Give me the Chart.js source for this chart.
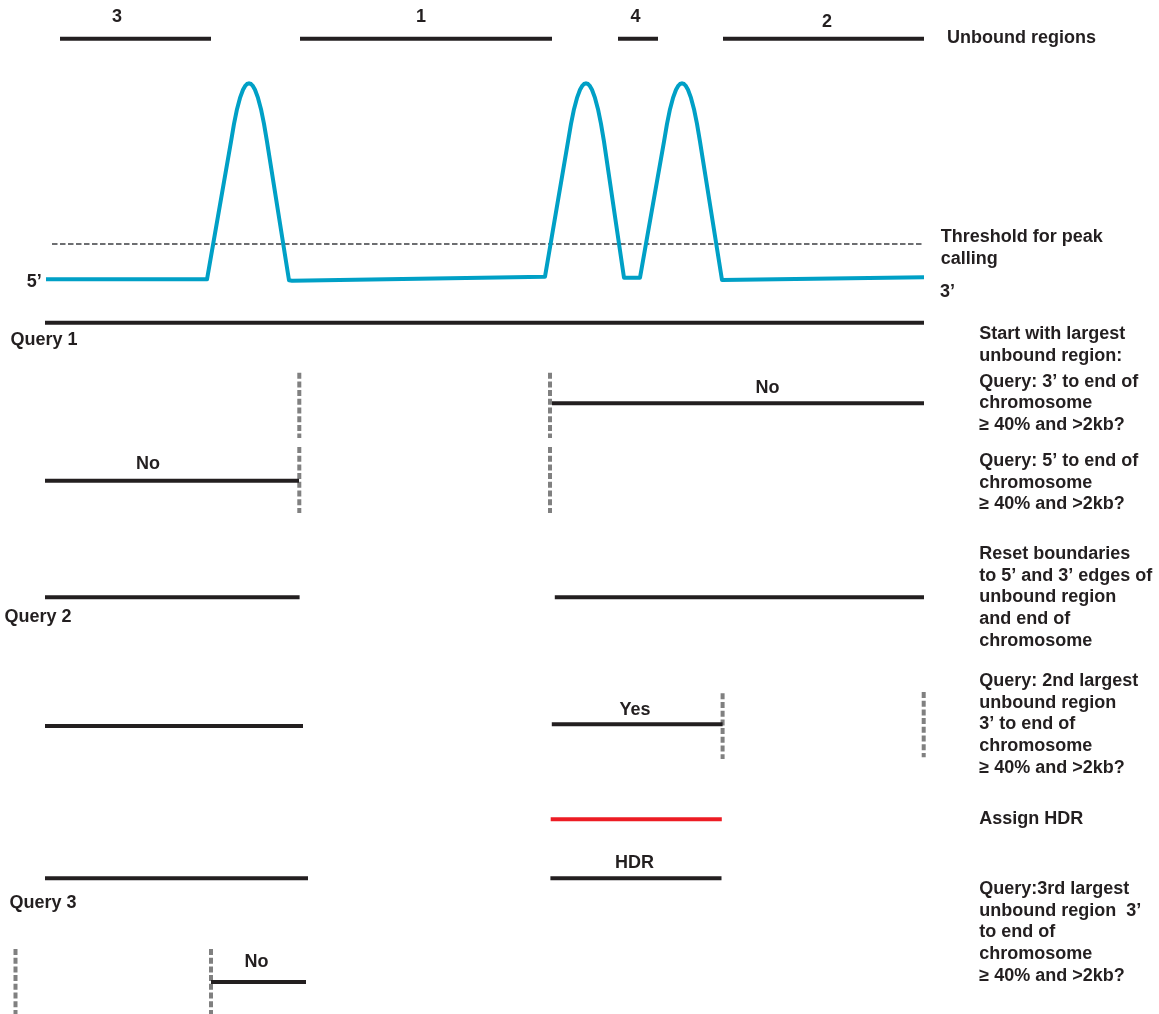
<!DOCTYPE html>
<html>
<head>
<meta charset="utf-8">
<script src="https://cdn.jsdelivr.net/npm/chart.js@4/dist/chart.umd.min.js"></script>
<style>
html,body{margin:0;padding:0;background:#ffffff;}
canvas{display:block;}
</style>
</head>
<body>
<canvas id="c" width="1159" height="1014"></canvas>
<script>
// ================= DATA =================
// Chromosome positions run from the 5' end (0) to the 3' end (879).
const chromosomeLength = 879;

// Unbound regions (numbered by size rank)
const regionNames  = ['3', '1', '4', '2'];
const regionStarts = [15, 255, 573, 678];
const regionEnds   = [166, 507, 613, 879];

// ChIP signal trace (position, signal)
const signalPos = [1, 162, 186, 189, 192, 195, 198, 200, 202, 204, 206, 208, 210, 213, 216, 219, 222, 244,
                   247, 500, 523, 526, 529, 532, 535, 537, 539, 541, 543, 545, 547, 550, 553, 556, 559, 579,
                   595, 619, 622, 625, 628, 631, 633, 635, 637, 639, 641, 643, 646, 649, 652, 655, 677,
                   879];
const signalVal = [0, 0, 137.7, 155.5, 170.1, 181.4, 189.5, 193.1, 195.3, 196, 195.3, 193.1, 189.5, 181.4, 170.1, 155.5, 137.7, -1,
                   -1.4, 2.6, 137.7, 155.5, 170.1, 181.4, 189.5, 193.1, 195.3, 196, 195.3, 193.1, 189.5, 181.4, 170.1, 155.5, 137.7, 1.6,
                   1.6, 137.7, 155.5, 170.1, 181.4, 189.5, 193.1, 195.3, 196, 195.3, 193.1, 189.5, 181.4, 170.1, 155.5, 137.7, -0.7,
                   2];
const peakThreshold = 35.3;
const thresholdFrom = 7;

// Query step rows (track value) and tested segments
const segmentStart = [0,   507,   0,     0,     509.8, 0,   506.8, 505.7, 0,     505.4, 166];
const segmentEnd   = [879, 879,   254,   254.6, 879,   258, 677.6, 676.8, 263,   676.5, 261];
const segmentRow   = [322.7, 403.3, 480.7, 597.3, 597.3, 726, 724.3, 819.3, 878.3, 878.3, 982];
const segmentIsHDR = [false, false, false, false, false, false, false, true, false, false, false];

// Query boundaries (dashed)
const boundaryPos    = [254.3, 254.3, 505, 505, 677.6, 878.7, -29.5, 166];
const boundaryTop    = [372.7, 447,   372.7, 447, 693.3, 692,  949,   949];
const boundaryBottom = [438,   513,   438,   513, 759,   757.3, 1014, 1014];

// Texts
const queryNames    = ['Query 1', 'Query 2', 'Query 3'];
const outcomeLabels = ['No', 'No', 'Yes', 'HDR', 'No'];
const sideNotes = [
  ['Start with largest', 'unbound region:'],
  ['Query: 3\u2019 to end of', 'chromosome', '\u2265 40% and >2kb?'],
  ['Query: 5\u2019 to end of', 'chromosome', '\u2265 40% and >2kb?'],
  ['Reset boundaries', 'to 5\u2019 and 3\u2019 edges of', 'unbound region', 'and end of', 'chromosome'],
  ['Query: 2nd largest', 'unbound region', '3\u2019 to end of', 'chromosome', '\u2265 40% and >2kb?'],
  ['Assign HDR'],
  ['Query:3rd largest', 'unbound region  3\u2019', 'to end of', 'chromosome', '\u2265 40% and >2kb?']
];
const legendTitle = 'Unbound regions';
const thresholdText = ['Threshold for peak', 'calling'];
const endLabels = ['5\u2019', '3\u2019'];

// ================= LAYOUT / STYLE =================
const INK = '#231f20';
const BLUE = '#00a0c6';
const RED = '#ed1c24';
const GREY = '#808080';
const DASHGREY = '#6d6e71';
const FONT = 'bold 18px "Liberation Sans", Arial, Helvetica, sans-serif';
const regionRow = 38.7;
const regionLabelX = [72, 376, 590.5, 782];
const regionLabelY = [21.7, 21.7, 21.7, 26.7];
const queryNameX = [-34.5, -40.6, -35.4];
const queryNameY = [344.7, 621.7, 908];
const outcomeX = [103, 722.5, 590, 589.5, 211.5];
const outcomeY = [469, 393, 715, 868.3, 966.7];
const sideNoteX = 934.3;
const sideNoteY = [339.3, 386.7, 466, 559, 686, 824, 894];
const sideLineH = 21.7;

// ================= DATASETS =================
const base = {showLine: true, pointRadius: 0, pointHoverRadius: 0, tension: 0, fill: false,
              borderCapStyle: 'butt'};
const datasets = [];

datasets.push(Object.assign({}, base, {
  label: 'Signal', yAxisID: 'ys', borderColor: BLUE, borderWidth: 4, borderJoinStyle: 'round',
  data: signalPos.map((x, i) => ({x: x, y: signalVal[i]}))
}));
datasets.push(Object.assign({}, base, {
  label: 'Threshold', yAxisID: 'ys', borderColor: DASHGREY, borderWidth: 2, borderDash: [5.5, 2.5],
  data: [{x: thresholdFrom, y: peakThreshold}, {x: chromosomeLength - 0.3, y: peakThreshold}]
}));
regionNames.forEach((n, i) => {
  datasets.push(Object.assign({}, base, {
    label: 'Region ' + n, yAxisID: 'y', borderColor: INK, borderWidth: 4,
    data: [{x: regionStarts[i], y: regionRow}, {x: regionEnds[i], y: regionRow}]
  }));
});
segmentStart.forEach((s, i) => {
  datasets.push(Object.assign({}, base, {
    label: 'Segment ' + i, yAxisID: 'y', borderColor: segmentIsHDR[i] ? RED : INK, borderWidth: 4,
    data: [{x: s, y: segmentRow[i]}, {x: segmentEnd[i], y: segmentRow[i]}]
  }));
});
boundaryPos.forEach((p, i) => {
  datasets.push(Object.assign({}, base, {
    label: 'Boundary ' + i, yAxisID: 'y', borderColor: GREY, borderWidth: 4, borderDash: [6, 2.7],
    data: [{x: p, y: boundaryTop[i]}, {x: p, y: boundaryBottom[i]}]
  }));
});

// ================= TEXT PLUGIN =================
const textPlugin = {
  id: 'diagramText',
  afterDatasetsDraw(chart) {
    const ctx = chart.ctx, X = chart.scales.x, Y = chart.scales.y;
    ctx.save();
    ctx.font = FONT;
    ctx.fillStyle = INK;
    ctx.textBaseline = 'alphabetic';
    const put = (t, u, r, align) => {
      ctx.textAlign = align || 'left';
      ctx.fillText(t, X.getPixelForValue(u), Y.getPixelForValue(r));
    };
    regionNames.forEach((n, i) => put(n, regionLabelX[i], regionLabelY[i], 'center'));
    put(legendTitle, 902, 43);
    put(thresholdText[0], 895.7, 241.7);
    put(thresholdText[1], 895.7, 263.7);
    put(endLabels[0], -18.3, 287);
    put(endLabels[1], 895, 297);
    queryNames.forEach((q, i) => put(q, queryNameX[i], queryNameY[i]));
    outcomeLabels.forEach((o, i) => put(o, outcomeX[i], outcomeY[i], 'center'));
    sideNotes.forEach((block, b) => {
      block.forEach((line, k) => put(line, sideNoteX, sideNoteY[b] + k * sideLineH));
    });
    ctx.restore();
  }
};

new Chart(document.getElementById('c'), {
  type: 'scatter',
  data: {datasets: datasets},
  options: {
    responsive: false,
    animation: false,
    events: [],
    layout: {padding: 0},
    plugins: {legend: {display: false}, tooltip: {enabled: false}, title: {display: false}},
    scales: {
      x:  {type: 'linear', min: -45, max: 1114, display: false},
      y:  {type: 'linear', min: 0, max: 1014, reverse: true, display: false},
      ys: {type: 'linear', min: -734.7, max: 279.3, display: false}
    }
  },
  plugins: [textPlugin]
});
</script>
</body>
</html>
